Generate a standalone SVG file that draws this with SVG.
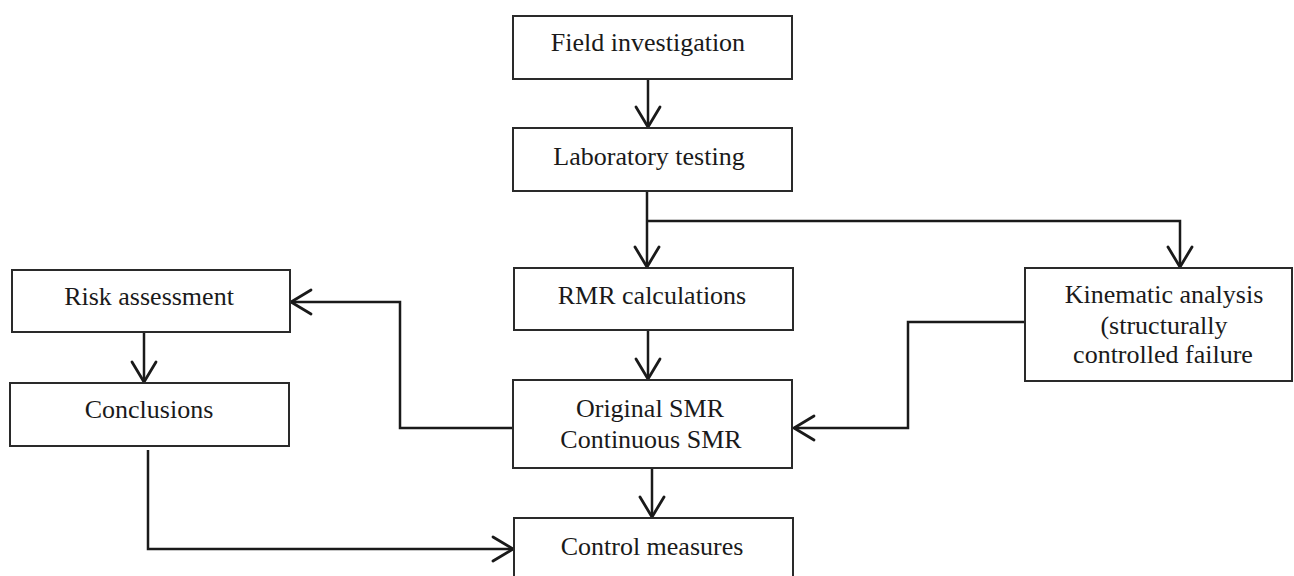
<svg xmlns="http://www.w3.org/2000/svg" width="1294" height="576" viewBox="0 0 1294 576">
<style>
.box{fill:#fff;stroke:#2a2a2a;stroke-width:2}
.t{font-family:"Liberation Serif","Times New Roman",serif;font-size:26px;fill:#1a1a1a;text-anchor:middle}
.c{fill:none;stroke:#1a1a1a;stroke-width:2.5;stroke-linejoin:miter}
.ah{fill:none;stroke:#1a1a1a;stroke-width:2.8;stroke-linecap:round;stroke-linejoin:miter}
</style>
<rect width="1294" height="576" fill="#fff"/>
<g id="connectors">
<path class="c" d="M648 79V127"/><path class="ah" d="M636 107L648 127L660 107"/>
<path class="c" d="M647 191V267M647 221H1180V267"/>
<path class="ah" d="M635 247L647 267L659 247"/>
<path class="ah" d="M1168 247L1180 267L1192 247"/>
<path class="c" d="M648 330V379"/><path class="ah" d="M636 359L648 379L660 359"/>
<path class="c" d="M652 468V517"/><path class="ah" d="M640 497L652 517L664 497"/>
<path class="c" d="M144 332V382"/><path class="ah" d="M132 362L144 382L156 362"/>
<path class="c" d="M513 428H400V302H291"/><path class="ah" d="M311 290L291 302L311 314"/>
<path class="c" d="M1025 322H908V428H794"/><path class="ah" d="M814 416L794 428L814 440"/>
<path class="c" d="M148 450V549H513"/><path class="ah" d="M493 537L513 549L493 561"/>
</g>
<g id="field"><rect class="box" x="513" y="16" width="279" height="63"/><text class="t" x="648" y="51">Field investigation</text></g>
<g id="lab"><rect class="box" x="513" y="128" width="279" height="63"/><text class="t" x="649" y="165">Laboratory testing</text></g>
<g id="rmr"><rect class="box" x="514" y="268" width="279" height="62"/><text class="t" x="652" y="304">RMR calculations</text></g>
<g id="smr"><rect class="box" x="513" y="380" width="279" height="88"/><text class="t" x="650" y="417">Original SMR</text><text class="t" x="651" y="448">Continuous SMR</text></g>
<g id="control"><rect class="box" x="514" y="518" width="279" height="70"/><text class="t" x="652" y="555">Control measures</text></g>
<g id="kinematic"><rect class="box" x="1025" y="268" width="267" height="113"/><text class="t" x="1164" y="303">Kinematic analysis</text><text class="t" x="1164" y="334">(structurally</text><text class="t" x="1163" y="363">controlled failure</text></g>
<g id="risk"><rect class="box" x="12" y="270" width="278" height="62"/><text class="t" x="149" y="305">Risk assessment</text></g>
<g id="conclusions"><rect class="box" x="10" y="383" width="279" height="63"/><text class="t" x="149" y="418">Conclusions</text></g>
</svg>
